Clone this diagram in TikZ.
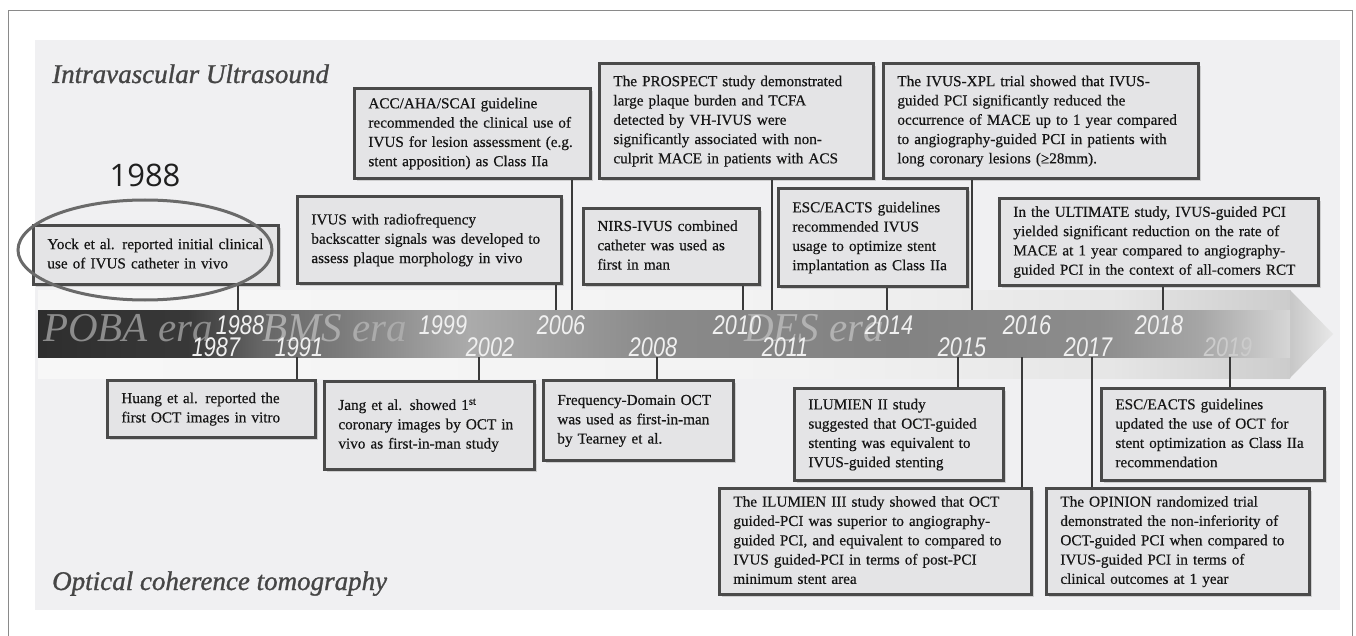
\documentclass[tikz,border=0pt]{standalone}
\usepackage{fontspec}
\setmainfont{Liberation Serif}
\newfontfamily\boxfont[FakeBold=0.45]{Liberation Serif}
\newfontfamily\titlefont[FakeBold=1.0]{Liberation Serif}
\newfontfamily\yearfont[FakeStretch=0.8]{Liberation Sans}
\newfontfamily\labelfont{Open Sans}
\usetikzlibrary{shadows}
\definecolor{panel}{HTML}{F0F0F2}
\definecolor{boxfill}{HTML}{E4E4E6}
\definecolor{boxline}{HTML}{4A4A4A}
\definecolor{conn}{HTML}{3A3A3A}
\definecolor{framecol}{HTML}{8A8A8A}
\definecolor{titlecol}{HTML}{454545}
\definecolor{ringcol}{HTML}{6A6A6A}
\definecolor{txt}{HTML}{161616}
\pgfdeclarehorizontalshading{bandshade}{100bp}{%
 color(0bp)=(black!82); color(25bp)=(black!82); color(31bp)=(black!78);
 color(33.9bp)=(black!60); color(37bp)=(black!52); color(42.2bp)=(black!33);
 color(45.8bp)=(black!39); color(49.8bp)=(black!46); color(59.4bp)=(black!49);
 color(67.4bp)=(black!45); color(71.4bp)=(black!35); color(75bp)=(black!16);
 color(100bp)=(black!16)}
\pgfdeclarehorizontalshading{stripshade}{100bp}{%
 color(0bp)=(black!3); color(25bp)=(black!3); color(55bp)=(black!5);
 color(68bp)=(black!10); color(75bp)=(black!20); color(100bp)=(black!20)}
\pgfdeclarehorizontalshading{headshade}{100bp}{%
 color(0bp)=(black!22); color(25bp)=(black!22); color(75bp)=(black!9);
 color(100bp)=(black!9)}
\newcommand\evtext[1]{\noindent\begin{tabular}{@{}l@{}}#1\end{tabular}}
\tikzset{
 evbox/.style={draw=boxline, line width=2.8pt, fill=boxfill, anchor=north west,
   inner xsep=14pt, inner ysep=0pt, align=left, text=txt,
   font=\boxfont\fontsize{15.2}{19.3}\selectfont,
   drop shadow={shadow xshift=2.5pt, shadow yshift=-2.5pt, opacity=0.3}},
 yearlab/.style={anchor=base, text=white!94!black,
   font=\yearfont\itshape\fontsize{27}{27}\selectfont, inner sep=0pt},
 eralab/.style={anchor=base west, font=\itshape\fontsize{41}{41}\selectfont, inner sep=0pt},
 conline/.style={draw=conn, line width=1.4pt},
 sectitle/.style={anchor=base west, text=titlecol, font=\titlefont\itshape\fontsize{27}{27}\selectfont, inner sep=0pt}
}
\begin{document}
\begin{tikzpicture}[x=1pt,y=-1pt]
\useasboundingbox (0,0) rectangle (1356,636);
% frame and panel
\draw[framecol, line width=0.9pt] (8,650) -- (8,10) -- (1352,10) -- (1352,650);
\fill[panel] (35,40) rectangle (1340,610);
% arrow
\shade[shading=stripshade] (38,290) rectangle (1290,378);
\shade[shading=headshade] (1290,290) -- (1333,334) -- (1290,378) -- cycle;
\shade[shading=bandshade] (38,310) rectangle (1290,357);
% era labels
\node[eralab, text=black!45] (poba) at (43,341) {POBA era};
\node[eralab, text=black!33] (bms) at (262,341) {BMS era};
\node[eralab, text=black!30] (des) at (744,341) {DES era};
% years
\node[yearlab] (y1988) at (240,334) {1988};
\node[yearlab] (y1999) at (443,334) {1999};
\node[yearlab] (y2006) at (561,334) {2006};
\node[yearlab] (y2010) at (737,334) {2010};
\node[yearlab] (y2014) at (889,334) {2014};
\node[yearlab] (y2016) at (1027,334) {2016};
\node[yearlab] (y2018) at (1159,334) {2018};
\node[yearlab] (y1987) at (216,356) {1987};
\node[yearlab] (y1991) at (299,356) {1991};
\node[yearlab] (y2002) at (490,356) {2002};
\node[yearlab] (y2008) at (653,356) {2008};
\node[yearlab] (y2011) at (785,356) {2011};
\node[yearlab] (y2015) at (962,356) {2015};
\node[yearlab] (y2017) at (1088,356) {2017};
\node[yearlab, text=white!80!black] (y2019) at (1228,356) {2019};
% anchor points on the band
\coordinate (tA) at (238,310);
\coordinate (tB) at (556,310);
\coordinate (tC) at (572,310);
\coordinate (tD) at (772,310);
\coordinate (tE) at (743,310);
\coordinate (tF) at (887,310);
\coordinate (tG) at (972,310);
\coordinate (tH) at (1163,310);
\coordinate (bA) at (297,357);
\coordinate (bB) at (479,357);
\coordinate (bC) at (657,357);
\coordinate (bD) at (958,357);
\coordinate (bE) at (1022,357);
\coordinate (bF) at (1092,357);
\coordinate (bG) at (1230,357);
% boxes top
\node[evbox, text width=217pt, minimum height=59pt] (yock) at (32,224) {\evtext{Yock et al. reported initial clinical\\use of IVUS catheter in vivo}};
\node[evbox, text width=236pt, minimum height=87pt] (rf) at (296,195) {\evtext{IVUS with radiofrequency\\backscatter signals was developed to\\assess plaque morphology in vivo}};
\node[evbox, text width=208pt, minimum height=90pt] (acc) at (353,87) {\evtext{ACC/AHA/SCAI guideline\\recommended the clinical use of\\IVUS for lesion assessment (e.g.\\stent apposition) as Class IIa}};
\node[evbox, text width=246pt, minimum height=115pt] (prosp) at (598,62) {\evtext{The PROSPECT study demonstrated\\large plaque burden and TCFA\\detected by VH-IVUS were\\significantly associated with non-\\culprit MACE in patients with ACS}};
\node[evbox, text width=148pt, minimum height=76pt] (nirs) at (582,207) {\evtext{NIRS-IVUS combined\\catheter was used as\\first in man}};
\node[evbox, text width=161pt, minimum height=98pt] (escA) at (777,187) {\evtext{ESC/EACTS guidelines\\recommended IVUS\\usage to optimize stent\\implantation as Class IIa}};
\node[evbox, text width=287pt, minimum height=115pt] (xpl) at (882,62) {\evtext{The IVUS-XPL trial showed that IVUS-\\guided PCI significantly reduced the\\occurrence of MACE up to 1 year compared\\to angiography-guided PCI in patients with\\long coronary lesions (≥28mm).}};
\node[evbox, text width=291pt, minimum height=87pt] (ult) at (998,197) {\evtext{In the ULTIMATE study, IVUS-guided PCI\\yielded significant reduction on the rate of\\MACE at 1 year compared to angiography-\\guided PCI in the context of all-comers RCT}};
% boxes bottom
\node[evbox, text width=180pt, minimum height=57pt] (huang) at (106,379) {\evtext{Huang et al. reported the\\first OCT images in vitro}};
\node[evbox, text width=182pt, minimum height=88pt] (jang) at (323,380) {\evtext{Jang et al. showed 1\textsuperscript{st}\\coronary images by OCT in\\vivo as first-in-man study}};
\node[evbox, text width=162pt, minimum height=80pt] (fd) at (542,379) {\evtext{Frequency-Domain OCT\\was used as first-in-man\\by Tearney et al.}};
\node[evbox, text width=181pt, minimum height=92pt] (ilB) at (793,387) {\evtext{ILUMIEN II study\\suggested that OCT-guided\\stenting was equivalent to\\IVUS-guided stenting}};
\node[evbox, text width=284pt, minimum height=106pt] (ilC) at (718,487) {\evtext{The ILUMIEN III study showed that OCT\\guided-PCI was superior to angiography-\\guided PCI, and equivalent to compared to\\IVUS guided-PCI in terms of post-PCI\\minimum stent area}};
\node[evbox, text width=195pt, minimum height=92pt] (escB) at (1100,387) {\evtext{ESC/EACTS guidelines\\updated the use of OCT for\\stent optimization as Class IIa\\recommendation}};
\node[evbox, text width=235pt, minimum height=106pt] (opin) at (1045,487) {\evtext{The OPINION randomized trial\\demonstrated the non-inferiority of\\OCT-guided PCI when compared to\\IVUS-guided PCI in terms of\\clinical outcomes at 1 year}};
% connectors
\draw[conline] (tA) -- (yock.south -| tA);
\draw[conline] (tB) -- (rf.south -| tB);
\draw[conline] (tC) -- (acc.south -| tC);
\draw[conline] (tD) -- (prosp.south -| tD);
\draw[conline] (tE) -- (nirs.south -| tE);
\draw[conline] (tF) -- (escA.south -| tF);
\draw[conline] (tG) -- (xpl.south -| tG);
\draw[conline] (tH) -- (ult.south -| tH);
\draw[conline] (bA) -- (huang.north -| bA);
\draw[conline] (bB) -- (jang.north -| bB);
\draw[conline] (bC) -- (fd.north -| bC);
\draw[conline] (bD) -- (ilB.north -| bD);
\draw[conline] (bE) -- (ilC.north -| bE);
\draw[conline] (bF) -- (opin.north -| bF);
\draw[conline] (bG) -- (escB.north -| bG);
% highlight ring and label
\draw[ringcol, line width=3pt] (145,250) ellipse [x radius=127, y radius=50];
\node[font=\labelfont\fontsize{31}{31}\selectfont, text=black!88, inner sep=0pt] (lbl) at (145,175) {1988};
% section titles
\node[sectitle] (ivus) at (52,83) {Intravascular Ultrasound};
\node[sectitle] (oct) at (52,590) {Optical coherence tomography};
\end{tikzpicture}
\end{document}
